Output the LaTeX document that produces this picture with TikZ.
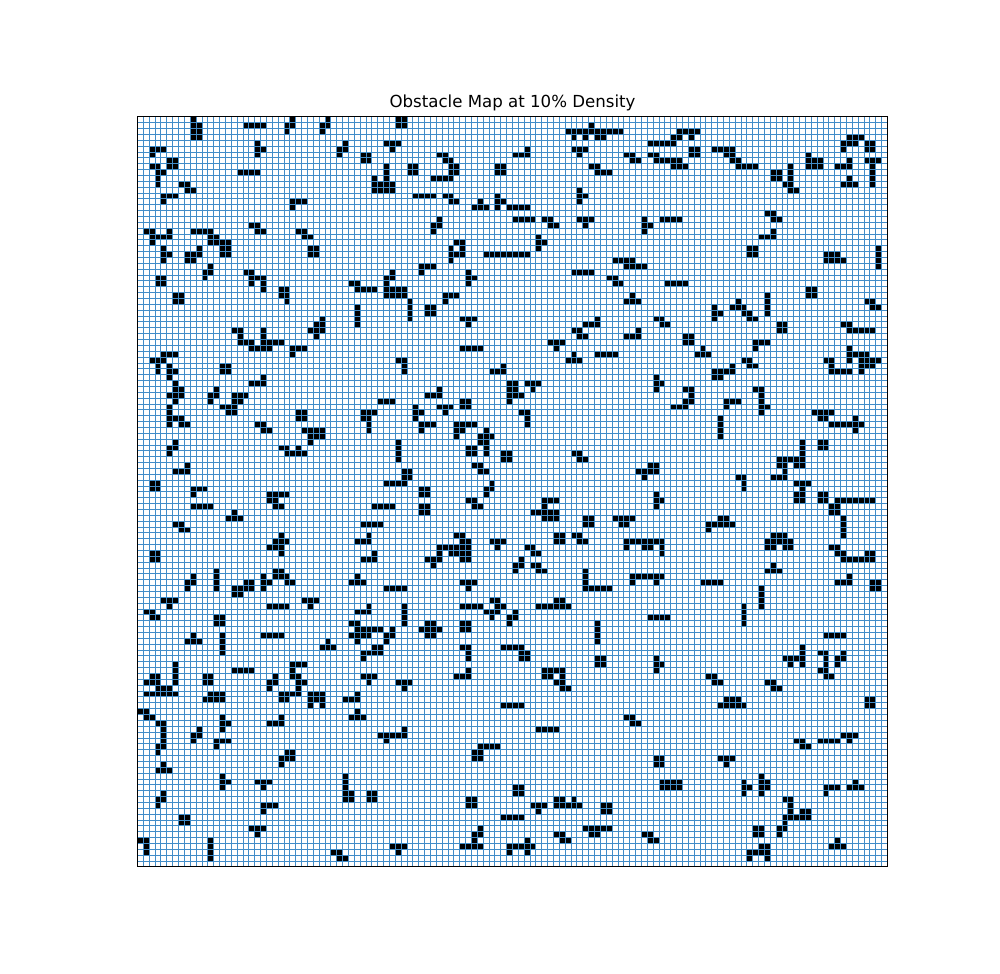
\documentclass[tikz,border=0pt]{standalone}
\usepackage{fontspec}
\setmainfont{DejaVu Sans}
\definecolor{gridc}{RGB}{65,140,200}
\newcommand\obst[3]{\foreach \c/\r in {#3}{\fill[black] ({#1+\c},{127-#2-\r}) rectangle ++(1,1);}}
\begin{document}
\begin{tikzpicture}[x=1mm,y=1mm]
\useasboundingbox (-23.47,-18.28) rectangle (147.2,147.95);
\fill[white] (-23.47,-18.28) rectangle (147.2,147.95);
% zoom block 0,0
\obst{0}{0}{9/0,9/1,10/1,9/2,10/2,9/3,10/3,
18/1,19/1,20/1,21/1,
26/0,25/1,26/1,25/2,
32/0,31/1,32/1,31/2,
20/4,20/5,21/5,20/6,
2/5,3/5,4/5,2/6,
5/7,6/7,5/8,6/8,
2/8,3/8,3/9,4/9,3/10,3/11,
7/11,8/11,8/12,9/12,
4/13,5/13,6/13,4/14,
17/9,18/9,19/9,20/9,
35/4,34/5,35/5,34/6,
38/6,39/6,38/7,39/7,
42/4,
42/8,42/9,42/10,42/11,42/12,40/10,40/11,41/11,40/12,41/12,
26/14,27/14,28/14,26/15,
19/18,20/18,20/19,21/19,
1/19,2/19,5/19,2/20,3/20,4/20,5/20,2/21,
9/19,10/19,11/19,12/19,12/20,13/20,12/21,13/21,14/21,15/21,14/22,15/22,14/23,15/23,
4/22,4/23,5/23,4/24,
10/22,8/23,9/23,10/23,8/24,9/24,
27/19,28/19,28/20,29/20,
29/22,30/22,29/23,30/23,
12/25,11/26,12/26,11/27,
18/26,19/26,19/27,20/27,21/27,19/28,21/28,21/29,
3/27,4/27,3/28,4/28,
24/29,25/29,24/30,25/30,25/31,
6/30,7/30,6/31,7/31,
36/28,37/28,37/29,38/29,39/29,40/29,42/27,42/28,42/29,42/30,
37/32,37/33,37/34,37/35,
31/34,30/35,31/35,29/36,30/36,31/36,30/37,
16/36,17/36,17/37,17/38,18/38,19/38,21/36,21/37,21/38,22/38,23/38,24/38,19/39,20/39,21/39,22/39,
26/39,27/39,28/39,26/40,
4/40,5/40,6/40,2/41,3/41,4/41,3/42,5/42,
14/42,15/42}
% block 43,0
\obst{43}{0}{1/0,2/0,1/1,2/1,
0/4,1/4,0/5,
8/6,9/6,9/7,10/7,10/8,11/8,10/9,11/9,7/10,8/10,9/10,10/10,
3/8,4/8,3/9,4/9,
18/8,19/8,18/9,19/9,
23/5,21/6,22/6,23/6,
0/11,0/12,
4/13,5/13,6/13,7/13,
9/13,10/13,10/14,11/14,
15/14,14/15,15/15,16/15,
18/13,18/14,19/14,18/15,20/15,21/15,22/15,23/15,
21/17,22/17,23/17,24/17,26/17,27/17,27/18,28/18,
8/17,7/18,8/18,7/19,
11/21,12/21,10/22,12/22,10/23,11/23,12/23,10/24,
16/23,17/23,18/23,19/23,20/23,21/23,22/23,23/23,
25/20,25/21,25/22,26/21,
5/25,6/25,7/25,5/26,
0/26,0/27,
13/26,13/27,13/28,14/27,
0/29,1/29,2/29,0/30,1/30,2/30,
3/31,3/32,3/33,3/34,
6/32,7/32,6/33,7/33,
9/30,10/30,11/30,9/31,
12/34,13/34,14/34,13/35,
12/39,13/39,14/39,15/39,
1/41,2/41,2/42,
19/42,
34/1,30/2,31/2,32/2,33/2,34/2,35/2,36/2,37/2,38/2,39/2,31/3,33/3,35/3,36/3,
31/5,32/5,33/5,32/6,
40/6,41/6,41/7,42/7,
34/8,35/8,35/9,36/9,37/9,
32/12,32/13,32/14,33/13,
32/17,33/17,34/17,33/18,
38/24,39/24,40/24,41/24,40/25,41/25,42/25,
31/26,32/26,33/26,34/26,
37/27,38/27,38/28,39/28,
41/30,40/31,41/31,42/31,
35/34,33/35,34/35,35/35,31/36,32/36,32/37,33/37,
42/36,40/37,41/37,42/37,
27/38,28/38,29/38,28/39,
35/40,36/40,37/40,38/40,
31/40,30/41,31/41,32/41}
% block 86,0
\obst{86}{0}{6/2,7/2,8/2,9/2,5/3,6/3,8/3,1/4,2/4,3/4,4/4,5/4,
8/5,9/5,8/6,9/6,
1/6,2/6,2/7,3/7,4/7,5/7,6/7,5/8,6/8,7/8,
12/5,13/5,14/5,15/5,14/6,15/6,15/7,16/7,16/8,17/8,18/8,19/8,
22/9,23/9,22/10,23/10,25/8,25/9,25/10,25/11,24/11,25/12,26/12,
28/6,28/7,29/7,30/7,28/8,29/8,30/8,
35/3,36/3,37/3,34/4,35/4,36/4,34/5,38/4,39/4,38/5,39/5,
35/7,33/8,34/8,35/8,
38/7,39/7,40/7,39/8,39/9,39/10,39/11,
35/10,34/11,35/11,36/11,
21/16,22/16,22/17,23/17,
0/17,0/18,0/19,1/18,3/17,4/17,5/17,6/17,
22/19,20/20,21/20,22/20,
18/22,19/22,18/23,19/23,
31/23,32/23,33/23,31/24,32/24,33/24,34/24,
40/22,40/23,40/24,40/25,
0/25,
4/28,5/28,6/28,7/28,
28/29,29/29,28/30,29/30,
21/30,21/31,21/32,21/33,
16/31,15/32,16/32,17/32,17/33,18/33,18/34,19/34,
12/32,12/33,12/34,13/33,
38/31,39/31,39/32,40/32,
2/34,3/34,3/35,4/35,
23/35,24/35,23/36,24/36,
34/35,35/35,35/36,36/36,37/36,38/36,39/36,
7/37,8/37,7/38,8/38,
10/39,9/40,10/40,11/40,
19/38,20/38,21/38,19/39,
17/41,18/41,18/42,19/42,
15/42,
31/41,32/41,32/42,
35/39,35/40,36/40,37/40,38/40,35/41,37/41,38/41,39/41,40/41,37/42,38/42,39/42}
% block 0,43
\obst{0}{43}{3/0,5/0,6/0,5/1,
14/0,15/0,
21/1,19/2,20/2,21/2,
6/2,6/3,7/3,5/4,6/4,7/4,6/5,
13/3,12/4,13/4,12/5,
16/4,17/4,18/4,16/5,17/5,14/6,15/6,16/6,15/7,16/7,
5/6,5/7,5/8,5/9,6/8,7/8,7/9,8/9,
41/5,42/5,
27/7,28/7,27/8,28/8,
38/7,39/7,40/7,38/8,39/8,39/9,39/10,
20/9,21/9,21/10,22/10,
28/10,29/10,30/10,31/10,29/11,30/11,31/11,29/12,
6/12,5/13,6/13,5/14,
24/13,25/13,27/13,25/14,26/14,27/14,28/14,
8/16,6/17,7/17,8/17,
2/19,3/19,2/20,3/20,
9/20,10/20,11/20,9/21,
42/19,
22/21,23/21,24/21,25/21,22/22,23/22,23/23,24/23,
9/23,10/23,11/23,12/23,
40/23,41/23,42/23,
16/24,15/25,16/25,17/25,
6/26,7/26,7/27,8/27,
38/26,39/26,40/26,41/26,
24/28,23/29,24/29,25/29,22/30,23/30,24/30,24/31,
39/28,37/29,38/29,39/29,
2/31,3/31,2/32,3/32,
40/31,38/32,39/32,40/32,
13/34,13/35,13/36,13/37,
9/35,8/36,9/36,8/37,
23/34,24/34,23/35,24/35,25/35,21/35,21/36,21/37,22/36,25/36,26/36,
18/36,19/36,18/37,19/37,16/37,17/37,16/38,17/38,
37/35,36/36,37/36,38/36,
42/37,
4/39,5/39,6/39,5/40,
28/39,29/39,30/39,29/40,
22/40,23/40,24/40,25/40,
1/41,2/41,2/42,3/42,
13/42,14/42,
39/40,37/41,38/41,39/41}
% block 43,43
\obst{43}{43}{2/0,
17/0,18/0,19/0,
20/2,21/2,20/3,21/3,20/4,21/4,22/4,20/5,
23/2,24/2,25/2,24/3,
8/3,6/4,7/4,8/4,
0/5,
12/5,13/5,12/6,13/6,
8/6,9/6,10/6,9/7,
4/6,4/7,4/8,5/7,5/9,6/9,7/9,5/10,
22/7,23/7,23/8,23/9,
11/9,12/9,13/9,14/9,11/10,12/10,11/11,
16/10,15/11,16/11,17/11,15/12,16/12,16/13,16/14,13/13,14/13,13/14,14/14,
1/12,1/13,1/14,1/15,
19/14,20/14,19/15,20/15,
31/14,32/14,32/15,33/15,
14/16,15/16,15/17,16/17,
42/17,
2/17,3/17,2/18,3/18,0/19,1/19,2/19,
17/19,16/20,17/20,16/21,
5/20,6/20,5/21,6/21,
0/23,
5/23,6/23,5/24,6/24,
13/22,14/22,14/23,15/23,
26/22,27/22,28/22,26/23,24/24,25/24,26/24,27/24,28/24,26/25,27/25,28/25,
33/25,34/25,33/26,34/26,
38/25,39/25,40/25,41/25,39/26,40/26,
11/28,12/28,12/29,13/29,8/30,9/30,10/30,11/30,12/30,13/30,8/31,10/31,11/31,12/31,13/31,6/32,7/32,8/32,12/32,13/32,7/33,
17/29,18/29,19/29,18/30,
28/28,29/28,28/29,29/29,
31/28,32/28,32/29,33/29,
40/29,41/29,42/29,40/30,
23/30,24/30,24/31,25/31,
22/32,21/33,22/33,21/34,
24/33,25/33,25/34,26/34,
33/34,33/35,33/36,33/37,34/37,35/37,36/37,37/37,
41/35,42/35,41/36,
12/36,13/36,14/36,13/37,
0/37,1/37,2/37,
17/39,18/39,12/40,13/40,14/40,15/40,18/40,19/40,16/41,17/41,18/41,17/42,
2/40,2/41,2/42,
20/42,21/42,21/41,
28/39,29/39,25/40,26/40,27/40,28/40,29/40,30/40}
% block 86,43
\obst{86}{43}{12/0,13/0,14/0,15/0,12/1,13/1,
32/0,33/0,34/0,35/0,37/0,
2/1,2/2,2/3,3/2,
7/3,8/3,8/4,7/5,8/5,5/6,6/6,7/6,
14/5,15/5,16/5,14/6,
19/3,20/3,20/4,20/5,20/6,20/7,21/6,
29/7,30/7,31/7,32/7,30/8,31/8,32/9,33/9,34/9,35/9,36/9,37/9,36/8,36/10,
13/8,13/9,13/10,13/11,
27/12,27/13,27/14,23/15,24/15,25/15,26/15,27/15,23/16,24/16,26/16,27/16,22/18,23/18,24/18,24/17,
30/12,31/12,30/13,31/13,
1/16,2/16,0/17,1/17,2/17,0/18,
16/18,17/18,17/19,17/20,
26/19,27/19,28/19,27/20,26/21,27/21,26/22,27/22,
30/21,31/21,30/22,31/22,33/22,34/22,35/22,36/22,37/22,38/22,39/22,32/23,33/23,32/24,33/24,34/25,34/26,34/27,34/28,
2/21,2/22,2/23,3/22,
13/25,14/25,11/26,12/26,13/26,14/26,15/26,11/27,
22/28,23/28,24/28,21/29,22/29,23/29,24/29,25/29,21/30,22/30,24/30,25/30,
0/29,1/29,2/29,3/29,0/30,1/30,3/30,3/31,
32/30,33/30,33/31,34/31,34/32,35/32,36/32,37/32,38/32,39/32,38/31,39/31,
22/33,21/34,22/34,23/34,
0/35,1/35,2/35,3/35,2/36,
10/36,11/36,12/36,13/36,
35/35,33/36,34/36,35/36,
39/36,40/36,39/37,40/37,
20/37,20/38,20/39,20/40,
17/40,17/41,17/42,
1/42,2/42,3/42,4/42}
% block 0,86
\obst{0}{86}{13/0,14/0,
9/2,8/3,9/3,10/3,
14/2,14/3,14/4,14/5,
21/2,22/2,23/2,24/2,
36/0,37/0,37/1,38/1,39/1,40/1,41/1,36/2,37/2,38/2,39/2,37/3,42/2,42/3,40/4,41/4,38/5,39/5,40/5,41/5,38/6,
32/3,31/4,32/4,33/4,
6/7,6/8,6/9,6/10,2/9,3/9,1/10,2/10,3/10,3/11,4/11,5/11,1/12,2/12,3/12,4/12,5/12,6/12,
16/8,17/8,18/8,19/8,
11/9,12/9,11/10,12/10,
26/7,27/7,28/7,26/8,26/9,27/9,27/10,28/10,27/11,24/12,25/12,26/12,27/12,24/13,25/13,
23/9,22/10,23/10,22/11,
12/12,13/12,14/12,11/13,12/13,13/13,14/13,
29/12,30/12,31/12,29/13,30/13,31/13,29/14,31/14,
38/9,39/9,40/9,39/10,
37/12,35/13,36/13,37/13,
0/15,1/15,1/16,2/16,
37/15,36/16,37/16,38/16,
3/17,4/17,4/18,4/19,4/20,3/21,4/21,3/22,
14/16,14/17,14/18,15/17,
24/16,22/17,23/17,24/17,
10/18,9/19,10/19,9/20,
13/20,14/20,15/20,13/21,
41/19,42/19,42/20,
25/22,26/22,24/23,25/23,26/23,24/24,
4/24,3/25,4/25,5/25,
14/26,14/27,14/28,15/27,
20/27,21/27,22/27,21/28,
35/26,35/27,35/28,35/29,35/30,36/29,36/30,39/29,40/29,39/30,40/30,
4/29,3/30,4/30,3/31,
21/31,22/31,23/31,21/32,
7/33,8/33,7/34,8/34,
19/35,20/35,21/35,20/36,
0/37,1/37,1/38,1/39,
12/37,12/38,12/39,12/40,
33/39,34/39,34/40,35/40}
% block 43,86
\obst{43}{86}{2/0,
6/0,7/0,5/1,6/1,7/1,8/1,6/2,7/2,
0/1,0/2,
12/0,13/0,12/1,13/1,
20/0,
35/0,35/1,35/2,35/3,
12/4,13/4,13/5,13/6,
19/4,20/4,21/4,22/4,22/5,23/5,22/6,23/6,
35/6,36/6,35/7,36/7,
13/8,11/9,12/9,13/9,
26/8,27/8,28/8,29/8,26/9,27/9,29/9,28/10,29/10,29/11,30/11,
1/10,2/10,3/10,2/11,
19/14,20/14,21/14,22/14,
40/16,41/16,41/17,42/17,
25/18,26/18,27/18,28/18,
2/18,0/19,1/19,2/19,
15/21,16/21,17/21,18/21,14/22,15/22,14/23,15/23,
21/28,22/28,21/29,22/29,
13/30,14/30,13/31,14/31,
24/31,25/31,26/31,25/32,
28/30,29/30,31/30,28/31,29/31,30/31,31/31,32/31,
36/31,37/31,36/32,37/32,
19/33,20/33,21/33,22/33,
33/35,34/35,35/35,36/35,37/35,34/36,35/36,
15/35,14/36,15/36,14/37,12/38,13/38,14/38,15/38,
28/36,29/36,29/37,30/37,
0/38,1/38,2/38,1/39,
23/37,20/38,21/38,22/38,23/38,24/38,20/39,23/39}
% block 86,86
\obst{86}{86}{17/0,
31/2,32/2,33/2,34/2,
27/4,27/5,27/6,27/7,24/6,25/6,26/6,25/7,
30/5,31/5,31/6,31/7,31/8,30/8,31/9,32/9,
34/5,33/6,34/6,33/7,
2/6,2/7,2/8,3/7,
11/9,12/9,12/10,13/10,
21/10,22/10,22/11,23/11,
14/13,15/13,16/13,13/14,14/14,15/14,16/14,17/14,
38/13,39/13,38/14,39/14,
26/20,27/20,27/21,28/21,
30/20,31/20,32/20,33/20,34/19,35/19,36/19,35/20,
2/23,3/23,2/24,3/24,
13/23,14/23,15/23,14/24,
3/27,4/27,5/27,6/27,3/28,4/28,5/28,6/28,
17/27,17/28,17/29,18/28,
20/26,20/27,20/28,20/29,21/27,21/28,
31/28,32/28,33/28,31/29,
36/27,35/28,36/28,37/28,
24/30,25/30,25/31,25/32,27/32,28/32,24/33,25/33,26/33,27/33,28/33,24/34,23/35,24/35,23/36,
19/35,20/35,19/36,20/36,
0/36,1/36,1/37,2/37,
33/37,32/38,33/38,34/38,
20/38,21/38,18/39,19/39,20/39,21/39,18/40,21/40}
% grid and frame
\draw[gridc,line width=0.45pt,step=1] (0,0) grid (128,128);
\draw[black,line width=0.54pt] (0,0) rectangle (128,128);
\node[anchor=base,inner sep=0pt,font=\fontsize{8.07}{9.5}\selectfont] (title) at (64,129.6) {Obstacle Map at 10\% Density};
\end{tikzpicture}
\end{document}
